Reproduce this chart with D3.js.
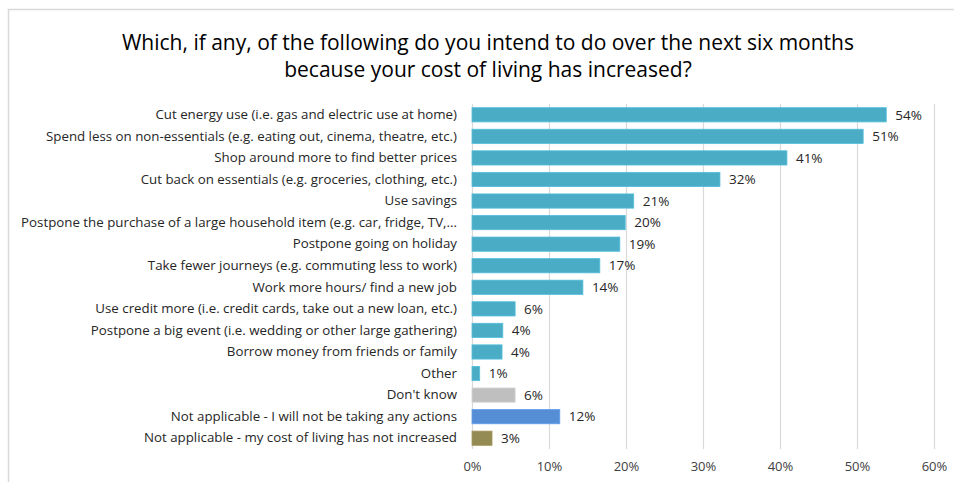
<!DOCTYPE html>
<html>
<head>
<meta charset="utf-8">
<script src="https://cdn.jsdelivr.net/npm/d3@7"></script>
<style>
  body { margin: 0; background: #fff; }
  text { font-family: "Open Sans", "Liberation Sans", sans-serif; fill: #404040; }
</style>
</head>
<body>
<div id="chart"></div>
<script>
var categories = [
  'Cut energy use (i.e. gas and electric use at home)',
  'Spend less on non-essentials (e.g. eating out, cinema, theatre, etc.)',
  'Shop around more to find better prices',
  'Cut back on essentials (e.g. groceries, clothing, etc.)',
  'Use savings',
  'Postpone the purchase of a large household item (e.g. car, fridge, TV,...',
  'Postpone going on holiday',
  'Take fewer journeys (e.g. commuting less to work)',
  'Work more hours/ find a new job',
  'Use credit more (i.e. credit cards, take out a new loan, etc.)',
  'Postpone a big event (i.e. wedding or other large gathering)',
  'Borrow money from friends or family',
  'Other',
  "Don't know",
  'Not applicable - I will not be taking any actions',
  'Not applicable - my cost of living has not increased'
];
var values = [53.8, 50.8, 40.9, 32.2, 21.0, 19.9, 19.2, 16.6, 14.4, 5.6, 4.0, 3.9, 1.0, 5.6, 11.4, 2.6];
var valueLabels = ['54%', '51%', '41%', '32%', '21%', '20%', '19%', '17%', '14%', '6%', '4%', '4%', '1%', '6%', '12%', '3%'];
var groups = ['action', 'action', 'action', 'action', 'action', 'action', 'action', 'action',
  'action', 'action', 'action', 'action', 'action', 'dontknow', 'none', 'notincreased'];
var ticks = [0, 10, 20, 30, 40, 50, 60];
var title = ['Which, if any, of the following do you intend to do over the next six months',
  'because your cost of living has increased?'];

var colors = { action: '#4BACC6', dontknow: '#BFBFBF', none: '#558ED5', notincreased: '#948A54' };

var width = 954, height = 482;
var svg = d3.select('#chart').append('svg')
    .attr('width', width)
    .attr('height', height);

// chart frame
svg.append('rect')
    .attr('x', 8.5).attr('y', 9.5)
    .attr('width', 960).attr('height', 500)
    .attr('fill', 'none')
    .attr('stroke', '#D9D9D9')
    .attr('stroke-width', 1.5);

svg.selectAll('.title').data(title).enter().append('text')
    .attr('class', 'title')
    .attr('x', 488)
    .attr('y', function(d, i) { return 50 + i * 27; })
    .attr('text-anchor', 'middle')
    .style('font-size', '21px')
    .style('fill', '#000')
    .text(function(d) { return d; });

var x = d3.scaleLinear().domain([0, 60]).range([472, 934]);
var y = d3.scaleBand().domain(categories).range([104, 449]).paddingInner(0.34).paddingOuter(0.17);

// gridlines
svg.selectAll('.grid').data(ticks).enter().append('line')
    .attr('x1', function(d) { return x(d) + 0.5; })
    .attr('x2', function(d) { return x(d) + 0.5; })
    .attr('y1', 104).attr('y2', 449)
    .attr('stroke', '#D9D9D9')
    .attr('stroke-width', 1.2);

var xAxis = d3.axisBottom(x).tickValues(ticks).tickSize(0).tickFormat(function(d) { return d + '%'; });
var gx = svg.append('g').attr('transform', 'translate(0,459)').call(xAxis);
gx.select('.domain').remove();
gx.selectAll('text').style('font-size', '13px').style('fill', '#404040');

var yAxis = d3.axisLeft(y).tickSize(0).tickPadding(0);
var gy = svg.append('g').attr('transform', 'translate(457,0)').call(yAxis);
gy.select('.domain').remove();
gy.selectAll('text').style('font-size', '13.3px').style('fill', '#262626');

var rows = categories.map(function(c, i) {
  return { cat: c, value: values[i], label: valueLabels[i], group: groups[i] };
});

svg.selectAll('.bar').data(rows).enter().append('rect')
    .attr('class', 'bar')
    .attr('x', x(0))
    .attr('y', function(d) { return y(d.cat); })
    .attr('width', function(d) { return x(d.value) - x(0); })
    .attr('height', y.bandwidth())
    .attr('fill', function(d) { return colors[d.group]; })
    .attr('stroke', function(d) { return d3.color(colors[d.group]).brighter(0.3); })
    .attr('stroke-width', 0.8);

svg.selectAll('.val').data(rows).enter().append('text')
    .attr('class', 'val')
    .attr('x', function(d) { return x(d.value) + 9; })
    .attr('y', function(d) { return y(d.cat) + y.bandwidth() / 2; })
    .attr('dy', '0.35em')
    .style('font-size', '13.5px')
    .style('fill', '#262626')
    .text(function(d) { return d.label; });
</script>
</body>
</html>
